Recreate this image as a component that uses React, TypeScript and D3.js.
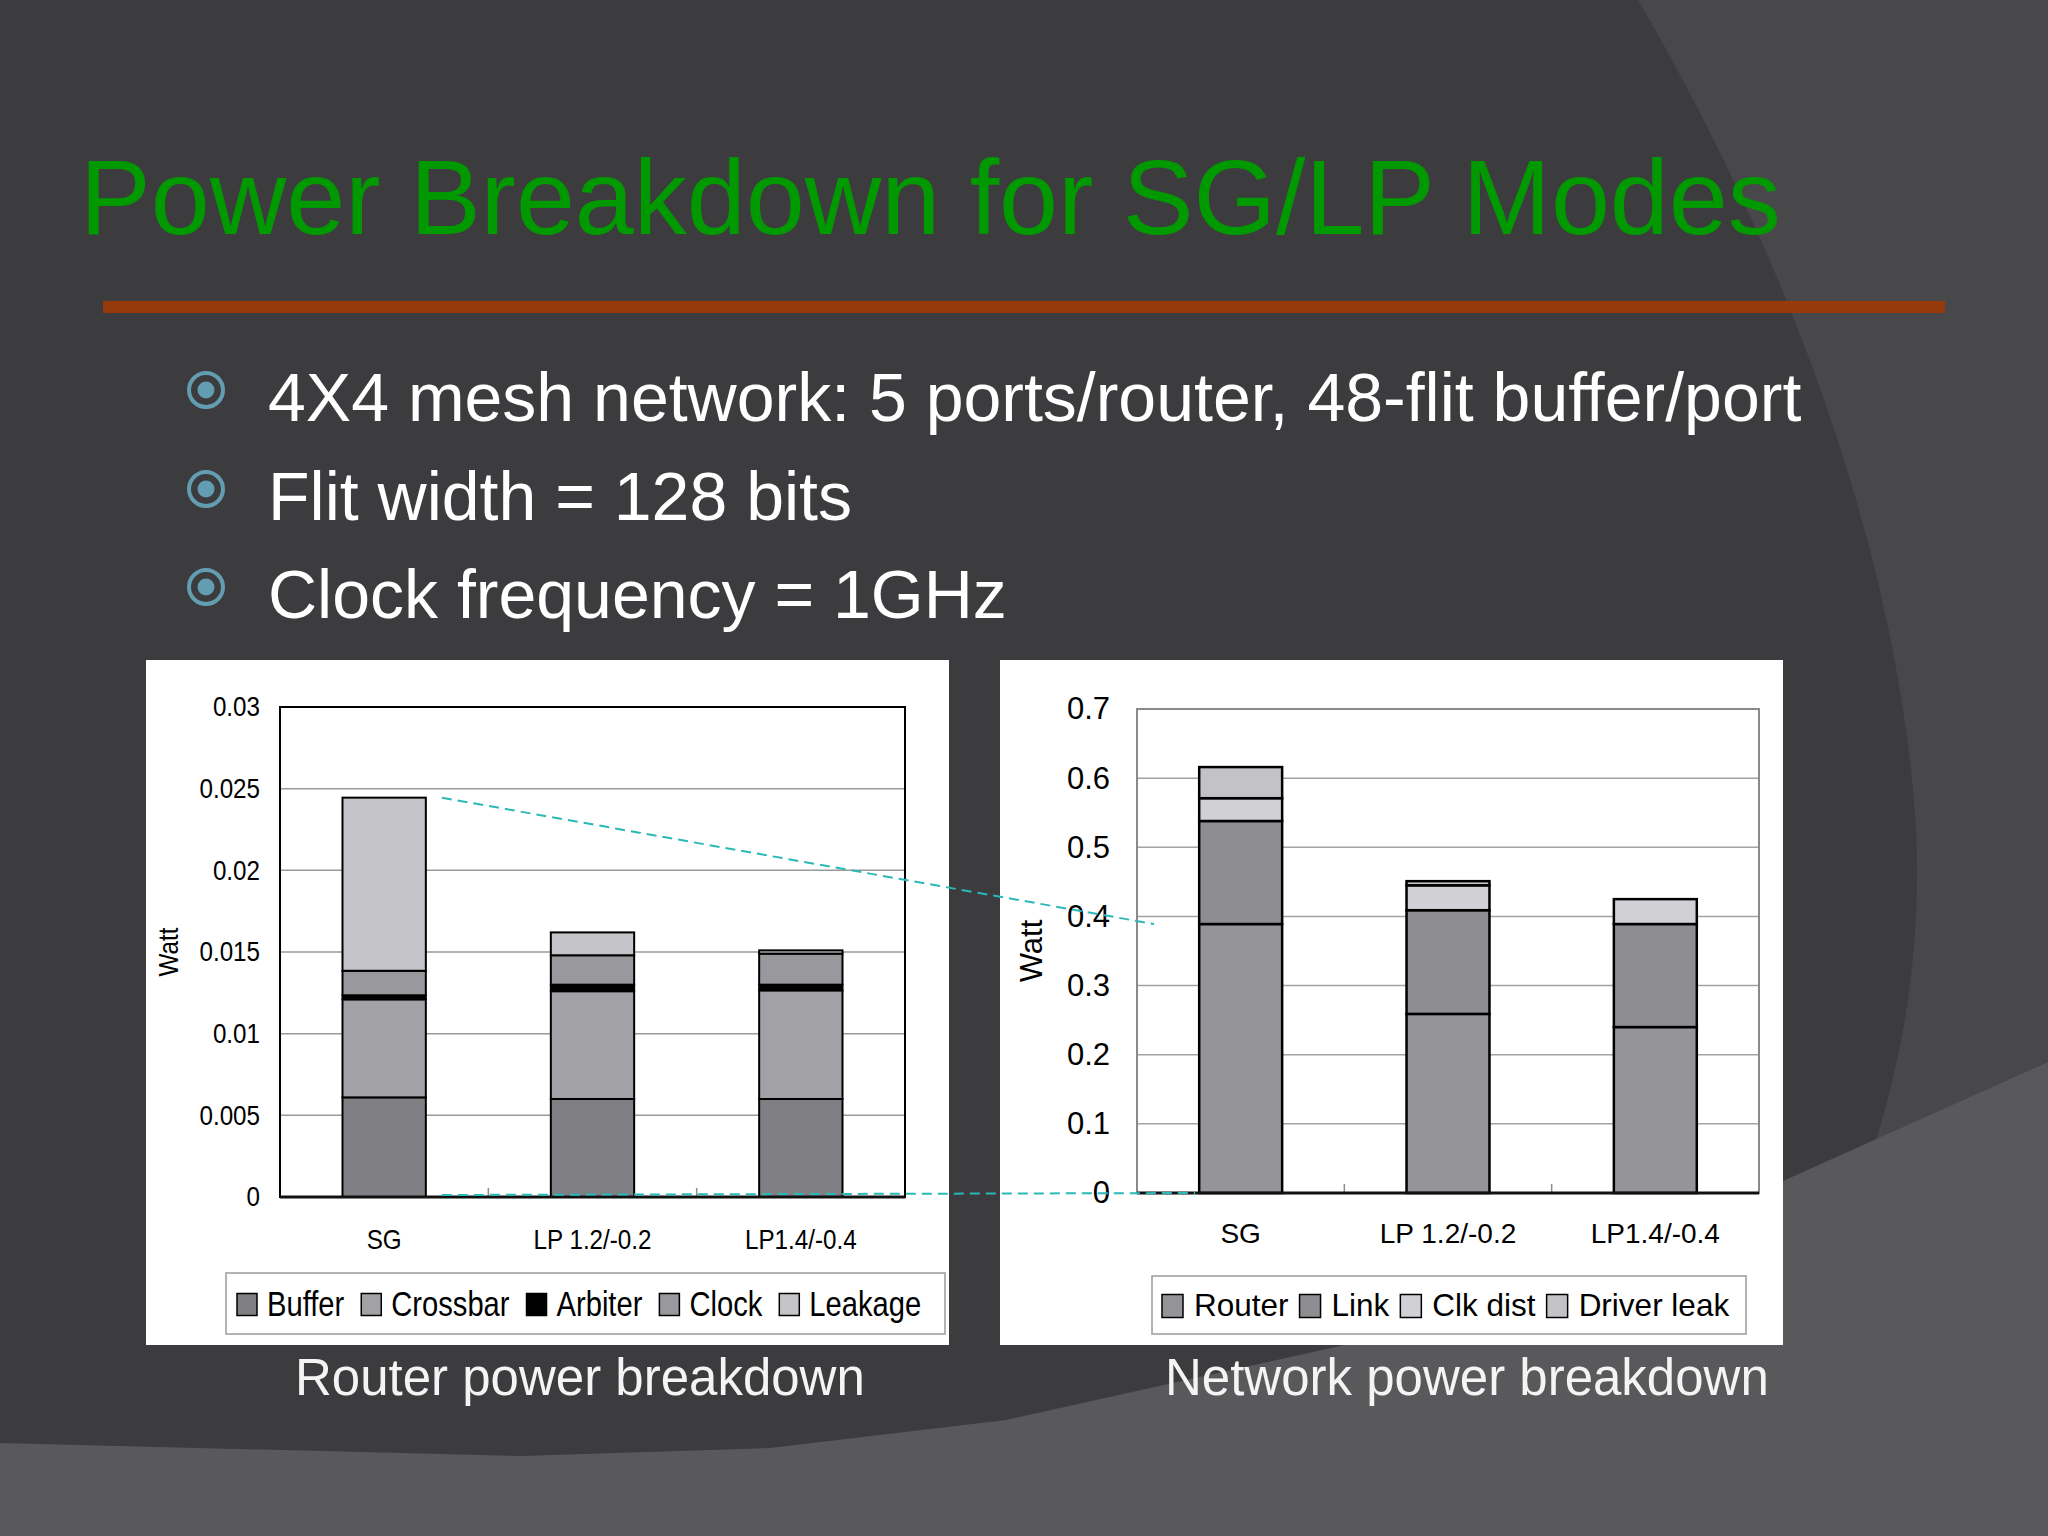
import * as d3 from 'd3';
import { useEffect, useRef } from 'react';

// slide text
const titleText = 'Power Breakdown for SG/LP Modes';
const bullets = [
  '4X4 mesh network: 5 ports/router, 48-flit buffer/port',
  'Flit width = 128 bits',
  'Clock frequency = 1GHz',
];
const captions = ['Router power breakdown', 'Network power breakdown'];

const modes = ['SG', 'LP 1.2/-0.2', 'LP1.4/-0.4'];

// Router power breakdown (Watt), one value per mode
const routerKeys = ['Buffer', 'Crossbar', 'Arbiter', 'Clock', 'Leakage'];
const bufferW = [0.0061, 0.006, 0.006];
const crossbarW = [0.006, 0.0066, 0.00665];
const arbiterW = [0.00025, 0.0004, 0.00035];
const clockW = [0.0015, 0.0018, 0.0019];
const leakageW = [0.0106, 0.0014, 0.0002];
const routerTicks = [0, 0.005, 0.01, 0.015, 0.02, 0.025, 0.03];
const routerTickLabels = ['0', '0.005', '0.01', '0.015', '0.02', '0.025', '0.03'];

// Network power breakdown (Watt)
const networkKeys = ['Router', 'Link', 'Clk dist', 'Driver leak'];
const routerNetW = [0.389, 0.259, 0.24];
const linkW = [0.149, 0.15, 0.149];
const clkDistW = [0.033, 0.036, 0.036];
const driverLeakW = [0.045, 0.006, 0];
const networkTicks = [0, 0.1, 0.2, 0.3, 0.4, 0.5, 0.6, 0.7];
const networkTickLabels = ['0', '0.1', '0.2', '0.3', '0.4', '0.5', '0.6', '0.7'];

const FONT = "'Liberation Sans', Arial, sans-serif";

type Opts = {
  box: [number, number, number, number];
  plot: [number, number, number, number];
  keys: string[];
  series: number[][];
  colors: string[];
  max: number;
  ticks: number[];
  tickLabels: string[];
  sx: number; // horizontal squeeze of the (narrow) chart font
  tickSize: number;
  tickPad: number;
  xLabelSize: number;
  xLabelGap: number;
  wattX: number;
  wattSize: number;
  frame: string;
  grid: string;
  barStroke: number;
  legendBox: [number, number, number, number];
  legendSize: number;
  legendSx: number;
  legendStart: number;
  legendSwatch: number;
  legendGap: number;
  legendTextGap: number;
};

function drawChart(root: d3.Selection<SVGSVGElement, unknown, null, undefined>, o: Opts) {
  const [bx0, by0, bx1, by1] = o.box;
  const [l, t, r, b] = o.plot;
  const g = root.append('g');

  g.append('rect')
    .attr('x', bx0).attr('y', by0)
    .attr('width', bx1 - bx0).attr('height', by1 - by0)
    .attr('fill', '#ffffff');

  const x = d3.scaleBand<string>().domain(modes).range([l, r]).paddingInner(0.6).paddingOuter(0.3);
  const y = d3.scaleLinear().domain([0, o.max]).range([b, t]);

  // gridlines
  g.append('g')
    .selectAll('line')
    .data(o.ticks.filter(v => v > 0 && v < o.max))
    .join('line')
    .attr('x1', l).attr('x2', r)
    .attr('y1', d => y(d)).attr('y2', d => y(d))
    .attr('stroke', o.grid)
    .attr('stroke-width', 1.5);

  // plot frame
  g.append('rect')
    .attr('x', l).attr('y', t)
    .attr('width', r - l).attr('height', b - t)
    .attr('fill', 'none')
    .attr('stroke', o.frame)
    .attr('stroke-width', 2);

  // category separator ticks
  const step = x.step();
  g.append('g')
    .selectAll('line')
    .data([1, 2])
    .join('line')
    .attr('x1', k => l + step * k).attr('x2', k => l + step * k)
    .attr('y1', b).attr('y2', b - 9)
    .attr('stroke', '#8c8c8c')
    .attr('stroke-width', 1.5);

  // stacked bars
  const rows = modes.map((m, i) => {
    const row: Record<string, any> = { mode: m };
    o.keys.forEach((k, j) => { row[k] = o.series[j][i]; });
    return row;
  });
  const stacked = d3.stack<Record<string, any>>().keys(o.keys)(rows);

  g.append('g')
    .selectAll('g')
    .data(stacked)
    .join('g')
    .attr('fill', (_, i) => o.colors[i])
    .selectAll('rect')
    .data(d => d.filter(s => s[1] - s[0] > 0))
    .join('rect')
    .attr('x', d => x(d.data.mode)!)
    .attr('y', d => y(d[1]))
    .attr('width', x.bandwidth())
    .attr('height', d => y(d[0]) - y(d[1]))
    .attr('stroke', '#000')
    .attr('stroke-width', o.barStroke);

  // bottom axis line
  g.append('line')
    .attr('x1', l).attr('x2', r)
    .attr('y1', b).attr('y2', b)
    .attr('stroke', '#111')
    .attr('stroke-width', 3);

  // y axis labels
  const yAxis = g.append('g')
    .attr('transform', `translate(${l},0)`)
    .call(
      d3.axisLeft(y)
        .tickValues(o.ticks)
        .tickFormat((_, i) => o.tickLabels[i])
        .tickSize(0)
        .tickPadding(o.tickPad)
    );
  yAxis.select('.domain').remove();
  yAxis.attr('font-family', FONT).attr('font-size', o.tickSize);
  yAxis.selectAll('text')
    .attr('fill', '#000')
    .attr('x', -o.tickPad / o.sx)
    .attr('transform', `scale(${o.sx},1)`);

  // x axis labels
  const xAxis = g.append('g')
    .attr('transform', `translate(0,${b})`)
    .call(d3.axisBottom(x).tickSize(0).tickPadding(0));
  xAxis.select('.domain').remove();
  xAxis.attr('font-family', FONT).attr('font-size', o.xLabelSize);
  xAxis.selectAll('.tick text')
    .attr('fill', '#000')
    .attr('y', o.xLabelGap)
    .attr('dy', 0)
    .attr('x', 0)
    .attr('transform', `scale(${o.sx},1)`);

  // Watt title
  g.append('text')
    .attr('transform', `translate(${o.wattX},${(t + b) / 2}) rotate(-90) scale(${o.sx},1)`)
    .attr('text-anchor', 'middle')
    .attr('font-family', FONT)
    .attr('font-size', o.wattSize)
    .text('Watt');

  // legend
  const [lx0, ly0, lx1, ly1] = o.legendBox;
  g.append('rect')
    .attr('x', lx0).attr('y', ly0)
    .attr('width', lx1 - lx0).attr('height', ly1 - ly0)
    .attr('fill', '#fff')
    .attr('stroke', '#9a9a9a')
    .attr('stroke-width', 1.5);

  const cy = (ly0 + ly1) / 2;
  let cx = o.legendStart;
  o.keys.forEach((k, i) => {
    g.append('rect')
      .attr('x', cx).attr('y', cy - o.legendSwatch / 2 + 1)
      .attr('width', o.legendSwatch - 2).attr('height', o.legendSwatch)
      .attr('fill', o.colors[i])
      .attr('stroke', '#000')
      .attr('stroke-width', 1.5);
    const tx = cx + o.legendSwatch + o.legendTextGap;
    const txt = g.append('text')
      .attr('transform', `translate(${tx},${cy + o.legendSize * 0.36}) scale(${o.legendSx},1)`)
      .attr('font-family', FONT)
      .attr('font-size', o.legendSize)
      .text(k);
    const w = (txt.node() as SVGTextElement).getComputedTextLength() * o.legendSx;
    cx = tx + w + o.legendGap;
  });

  return { x, y };
}

export default function App() {
  const svgRef = useRef<SVGSVGElement | null>(null);

  useEffect(() => {
    if (!svgRef.current) return;
    document.body.style.margin = '0';
    const W = 2048;
    const H = 1536;
    const svg = d3.select(svgRef.current).html('').attr('width', W).attr('height', H);

    // background
    svg.append('rect').attr('width', W).attr('height', H).attr('fill', '#3c3b3e');
    svg.append('path')
      .attr('d', 'M1638,0 C1790,260 1900,560 1916,830 C1922,960 1900,1060 1876,1141 L2048,1062 L2048,0 Z')
      .attr('fill', '#48474a');
    svg.append('path')
      .attr('d', 'M0,1443 L522,1456 L770,1448 L1006,1420 L1340,1346 L1783,1181 L2048,1062 L2048,1536 L0,1536 Z')
      .attr('fill', '#59585b');

    // title + rule
    svg.append('text')
      .attr('x', 80).attr('y', 234)
      .attr('font-family', FONT)
      .attr('font-size', 106)
      .attr('fill', '#009a00')
      .text(titleText);
    svg.append('rect')
      .attr('x', 103).attr('y', 301)
      .attr('width', 1842).attr('height', 12)
      .attr('fill', '#963a0c');

    // bullets
    const baselines = [421, 520, 618];
    const bulletG = svg.append('g');
    bullets.forEach((s, i) => {
      const by = baselines[i];
      bulletG.append('circle')
        .attr('cx', 206).attr('cy', by - 31).attr('r', 17)
        .attr('fill', 'none').attr('stroke', '#639db1').attr('stroke-width', 4);
      bulletG.append('circle')
        .attr('cx', 206).attr('cy', by - 31).attr('r', 8.5)
        .attr('fill', '#639db1');
      bulletG.append('text')
        .attr('x', 268).attr('y', by)
        .attr('font-family', FONT)
        .attr('font-size', 68)
        .attr('fill', '#ffffff')
        .text(s);
    });

    const left = drawChart(svg, {
      box: [146, 660, 949, 1345],
      plot: [280, 707, 905, 1197],
      keys: routerKeys,
      series: [bufferW, crossbarW, arbiterW, clockW, leakageW],
      colors: ['#807f83', '#a2a1a5', '#000000', '#99989c', '#c5c4c8'],
      max: 0.03,
      ticks: routerTicks,
      tickLabels: routerTickLabels,
      sx: 0.88,
      tickSize: 27.5,
      tickPad: 20,
      xLabelSize: 27.5,
      xLabelGap: 52,
      wattX: 178,
      wattSize: 27.5,
      frame: '#000',
      grid: '#9a9a9a',
      barStroke: 2,
      legendBox: [226, 1273, 945, 1334],
      legendSize: 36,
      legendSx: 0.81,
      legendStart: 237,
      legendSwatch: 22,
      legendGap: 17,
      legendTextGap: 8,
    });

    const right = drawChart(svg, {
      box: [1000, 660, 1783, 1345],
      plot: [1137, 709, 1759, 1193],
      keys: networkKeys,
      series: [routerNetW, linkW, clkDistW, driverLeakW],
      colors: ['#959498', '#8e8d91', '#d1d0d4', '#c3c2c6'],
      max: 0.7,
      ticks: networkTicks,
      tickLabels: networkTickLabels,
      sx: 1,
      tickSize: 31,
      tickPad: 27,
      xLabelSize: 28,
      xLabelGap: 50,
      wattX: 1042,
      wattSize: 31,
      frame: '#8a8a8a',
      grid: '#a3a3a3',
      barStroke: 2.5,
      legendBox: [1152, 1276, 1746, 1334],
      legendSize: 31.5,
      legendSx: 1,
      legendStart: 1162,
      legendSwatch: 23,
      legendGap: 11,
      legendTextGap: 9,
    });

    // captions
    [[295, captions[0]], [1165, captions[1]]].forEach(([cx, s]) => {
      svg.append('text')
        .attr('x', cx as number).attr('y', 1395)
        .attr('font-family', FONT)
        .attr('font-size', 51)
        .attr('fill', '#f4f4f4')
        .text(s as string);
    });

    // dashed connectors: router total (SG) -> network router share (SG)
    const sgTotal = bufferW[0] + crossbarW[0] + arbiterW[0] + clockW[0] + leakageW[0];
    const startX = left.x('SG')! + left.x.bandwidth() + 16;
    const conn = [
      [startX, left.y(sgTotal), right.x.range()[0] + 17, right.y(routerNetW[0])],
      [startX, left.y(0) - 2, right.x('SG')! - 4, right.y(0)],
    ];
    svg.append('g')
      .selectAll('line')
      .data(conn)
      .join('line')
      .attr('x1', d => d[0]).attr('y1', d => d[1])
      .attr('x2', d => d[2]).attr('y2', d => d[3])
      .attr('stroke', '#2bb8b8')
      .attr('stroke-width', 2)
      .attr('stroke-dasharray', '10 6');
  }, []);

  return <svg ref={svgRef} style={{ display: 'block' }} />;
}
